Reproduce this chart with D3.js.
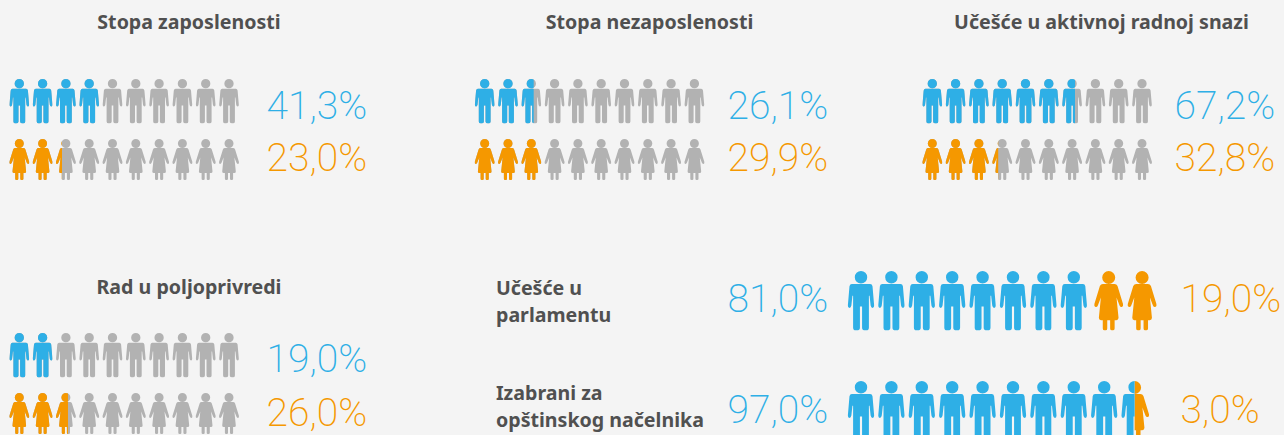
<!DOCTYPE html>
<html><head><meta charset="utf-8">
<script src="https://cdn.jsdelivr.net/npm/d3@7"></script>
<style>html,body{margin:0;padding:0;background:#f4f4f4;overflow:hidden}svg{display:block}
.t{font-family:"Noto Sans";font-weight:700;font-size:19.6px;fill:#505050}
.p{font-family:Roboto;font-weight:200;font-size:39px}</style>
</head><body><svg id="c" width="1284" height="435"></svg>
<script>
// Data
const titles = ["Stopa zaposlenosti","Stopa nezaposlenosti","Učešće u aktivnoj radnoj snazi","Rad u poljoprivredi"];
const menValues = ["41,3%","26,1%","67,2%","19,0%"];
const womenValues = ["23,0%","29,9%","32,8%","26,0%"];
const menFilled = [4,2.62,6.65,2];
const womenFilled = [2.3,3,3.3,2.6];
const bigLabels = [["Učešće u","parlamentu"],["Izabrani za","opštinskog načelnika"]];
const bigLeftValues = ["81,0%","97,0%"];
const bigRightValues = ["19,0%","3,0%"];
const bigLeftFilled = [8,9.5];

const ICONS = 10;
const BLUE="#2eafe6", ORANGE="#f59800", GRAY="#b2b2b2";
const manPath = "M0,9.8L6.8,9.8Q8.3,9.8 8.6,11.4L9.8,25.5Q9.9,27.6 8.7,27.6Q7.5,27.6 7.2,25.8L6.4,18.5L5.9,18.5L5.9,42.4Q5.9,44.3 3.9,44.3Q0.8,44.6 0.8,42.4L0.8,26.5L-0.8,26.5L-0.8,42.4Q-0.8,44.6 -3.9,44.3Q-5.9,44.3 -5.9,42.4L-5.9,18.5L-6.4,18.5L-7.2,25.8Q-7.5,27.6 -8.7,27.6Q-9.9,27.6 -9.8,25.5L-8.6,11.4Q-8.3,9.8 -6.8,9.8Z M4.65,4.65A4.65,4.65 0 1 1 -4.65,4.65A4.65,4.65 0 1 1 4.65,4.65Z";
const womanPath = "M0,9L4,9Q5.5,9 6.1,10.4L9.9,22.8Q10.3,24.6 9.1,24.9Q8,25.1 7.5,23.8L5.4,18.4L6.8,32.4Q6.8,34 5.3,34L4.1,34L4.1,39.7Q4.1,41 2.8,41L2.2,41Q1,41 1,39.7L1,34L-1,34L-1,39.7Q-1,41 -2.2,41L-2.8,41Q-4.1,41 -4.1,39.7L-4.1,34L-5.3,34Q-6.8,34 -6.8,32.4L-5.4,18.4L-7.5,23.8Q-8,25.1 -9.1,24.9Q-10.3,24.6 -9.9,22.8L-6.1,10.4Q-5.5,9 -4,9Z M4.5,4.5A4.5,4.5 0 1 1 -4.5,4.5A4.5,4.5 0 1 1 4.5,4.5Z";

const svg = d3.select("#c");
const defs = svg.append("defs");
let clipId = 0;

function clipRect(x,w){
  const id = "clip"+(clipId++);
  defs.append("clipPath").attr("id",id).append("rect").attr("x",x).attr("y",-2).attr("width",w).attr("height",50);
  return `url(#${id})`;
}
function icon(g, cx, top, scale, d, col, clip){
  const n = g.append("g").attr("transform",`translate(${cx},${top}) scale(${scale})`);
  const p = n.append("path").attr("d",d).attr("fill",col);
  if(clip) p.attr("clip-path",clip);
}

// small panels
const panelX = [19.3,484.7,932.3,19.3];
const panelTitleX = [189,649.5,1101.5,189];
const panelTitleY = [29,29,29,294];
const rowTop = [[79,139],[79,139],[79,139],[333,393]];
const pctX = [266.5,727.5,1174.5,266.5];
const pctY = [[119,171],[119,171],[119,171],[372,426]];
const cell = d3.scaleLinear().domain([0,1]).range([0,23.3]);
const W = 20;

titles.forEach((t,i)=>{
  const g = svg.append("g");
  g.append("text").attr("class","t").attr("x",panelTitleX[i]).attr("y",panelTitleY[i]).attr("text-anchor","middle").text(t);
  d3.range(ICONS).forEach(k=>{
    const cx = panelX[i]+cell(k);
    const fm = Math.max(0,Math.min(1,menFilled[i]-k));
    const fw = Math.max(0,Math.min(1,womenFilled[i]-k));
    icon(g,cx,rowTop[i][0],1,manPath,GRAY);
    if(fm>0) icon(g,cx,rowTop[i][0],1,manPath,BLUE,clipRect(-W/2,W*fm));
    icon(g,cx,rowTop[i][1],1,womanPath,GRAY);
    if(fw>0) icon(g,cx,rowTop[i][1],1,womanPath,ORANGE,clipRect(-W/2,W*fw));
  });
  g.append("text").attr("class","p").attr("x",pctX[i]).attr("y",pctY[i][0]).attr("fill",BLUE).text(menValues[i]);
  g.append("text").attr("class","p").attr("x",pctX[i]).attr("y",pctY[i][1]).attr("fill",ORANGE).text(womenValues[i]);
});

// big rows
const bigTop = [271,381];
const labelY = [[295,322],[400,427]];
const bigPctY = [312,423];
const rightX = 1180.5;
const manScale = 59.3/44.3, womanScale = 59.3/41;
const bigCell = d3.scaleLinear().domain([0,1]).range([0,30.4]);
bigLabels.forEach((lines,i)=>{
  const g = svg.append("g");
  lines.forEach((l,j)=>g.append("text").attr("class","t").attr("x",496).attr("y",labelY[i][j]).text(l));
  g.append("text").attr("class","p").attr("x",727.5).attr("y",bigPctY[i]).attr("fill",BLUE).text(bigLeftValues[i]);
  g.append("text").attr("class","p").attr("x",rightX).attr("y",bigPctY[i]).attr("fill",ORANGE).text(bigRightValues[i]);
  const full = Math.floor(bigLeftFilled[i]);
  d3.range(ICONS).forEach(k=>{
    const f = Math.max(0,Math.min(1,bigLeftFilled[i]-k));
    if(f===1){
      icon(g,861+bigCell(k),bigTop[i],manScale,manPath,BLUE);
    } else if(f>0){
      const cx = 861+bigCell(k);
      icon(g,cx,bigTop[i],womanScale,womanPath,ORANGE,clipRect(0,20));
      icon(g,cx,bigTop[i],manScale,manPath,BLUE,clipRect(-20,20));
    } else {
      icon(g,861+bigCell(full)+4.5+(k-full)*33.4,bigTop[i],womanScale,womanPath,ORANGE);
    }
  });
});
</script></body></html>
